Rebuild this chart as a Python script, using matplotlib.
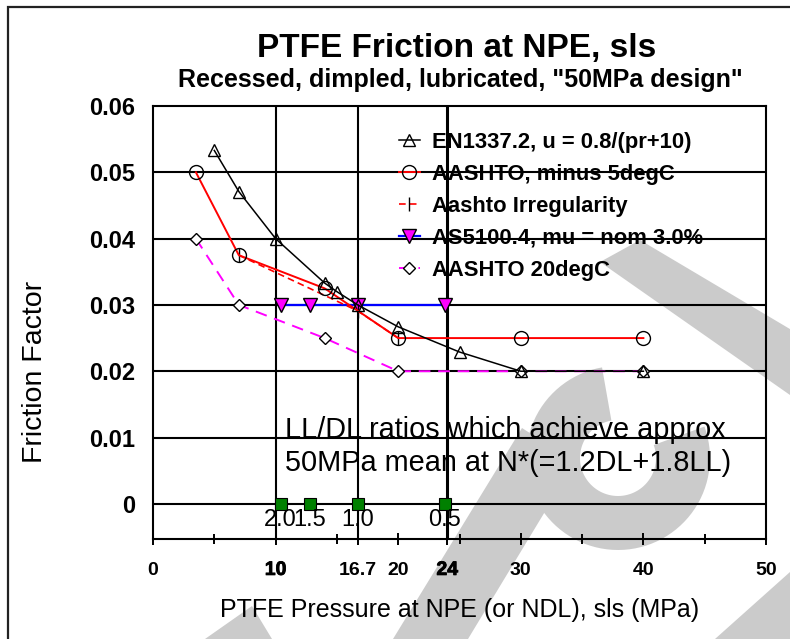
import numpy as np
import matplotlib
matplotlib.use("Agg")
import matplotlib.pyplot as plt
import matplotlib.patheffects as pe
from matplotlib.patches import Polygon, Rectangle

plt.rcParams['font.family'] = ['Liberation Sans', 'DejaVu Sans']

# ================== DATA ==================
en_x = [5, 7, 10, 14, 15, 16.7, 20, 25, 30, 40]
en_y = [0.0533, 0.0471, 0.040, 0.0333, 0.032, 0.030, 0.0267, 0.0229, 0.020, 0.020]

aash5_x = [3.5, 7, 14, 20, 30, 40]
aash5_y = [0.050, 0.0375, 0.0325, 0.025, 0.025, 0.025]

irreg_x = [7, 16.7, 20]
irreg_y = [0.0375, 0.0291, 0.025]

as5100_x = [10.4, 12.8, 16.7, 23.8]
as5100_y = [0.030, 0.030, 0.030, 0.030]

aash20_x = [3.5, 7, 14, 20, 30, 40]
aash20_y = [0.040, 0.030, 0.025, 0.020, 0.020, 0.020]

ratio_x = [10.4, 12.8, 16.7, 23.8]
ratio_y = [0, 0, 0, 0]
ratio_labels = ["2.0", "1.5", "1.0", "0.5"]

xtick_pos = [0, 10, 16.7, 20, 24, 30, 40, 50]
xtick_lab = ["0", "10", "16.7", "20", "24", "30", "40", "50"]
vgrid = [10, 16.7, 24]

W, H = 790, 639
fig = plt.figure(figsize=(W / 100, H / 100), dpi=100)


def px(x, y):
    return (x / W, 1 - y / H)


# ---- grey watermark behind the chart (rough) ----
wm = "#cbcbcb"
shapes = [
    [(393, 639), (468, 639), (575, 462), (522, 428)],
    [(600, 262), (640, 240), (800, 335), (800, 402)],
    [(715, 639), (790, 572), (790, 639)],
    [(205, 639), (252, 606), (272, 639)],
]
for s in shapes:
    fig.add_artist(Polygon([px(*p) for p in s], closed=True, fc=wm, ec="none", zorder=-2))
ang = np.radians(np.linspace(100, 380, 80))
cx, cy, r_in, r_out = 618, 458, 38, 92
ring = [(cx + r_out * np.cos(a), cy - r_out * np.sin(a)) for a in ang]
ring += [(cx + r_in * np.cos(a), cy - r_in * np.sin(a)) for a in ang[::-1]]
fig.add_artist(Polygon([px(*p) for p in ring], closed=True, fc=wm, ec="none", zorder=-2))

# outer frame (chart area border)
fig.add_artist(Rectangle(px(8, 700), 1.2, (700 - 7) / H, transform=fig.transFigure,
                         fill=False, ec="#222222", lw=1.6, zorder=-1))

ax = fig.add_axes([153 / W, 1 - 539 / H, (766 - 153) / W, (539 - 106) / H])
ax.patch.set_alpha(0)

# grid
for v in [0, 0.01, 0.02, 0.03, 0.04, 0.05]:
    ax.axhline(v, color="black", lw=1.5, zorder=1)
for v in vgrid:
    ax.axvline(v, color="black", lw=2.2 if v == 24 else 1.5, zorder=1)

ax.plot(aash20_x, aash20_y, color="magenta", ls=(0, (6, 4)), lw=1.4, marker="D",
        ms=6, mfc="white", mec="black", mew=1, label="AASHTO 20degC", zorder=3)
ax.plot(as5100_x, as5100_y, color="blue", lw=1.6, marker="v", ms=10,
        mfc="magenta", mec="black", mew=1, label="AS5100.4, mu = nom 3.0%", zorder=3)
ax.plot(irreg_x, irreg_y, color="red", ls=(0, (4, 2.5)), lw=1.2, marker="|",
        ms=10, mec="black", mew=1, label="Aashto Irregularity", zorder=4)
ax.plot(aash5_x, aash5_y, color="red", lw=1.4, marker="o", ms=10,
        mfc="none", mec="black", mew=1, label="AASHTO, minus 5degC", zorder=4)
ax.plot(en_x, en_y, color="black", lw=1.1, marker="^", ms=9,
        mfc="none", mec="black", mew=1, label="EN1337.2, u = 0.8/(pr+10)", zorder=5)

ax.plot(ratio_x, ratio_y, ls="none", marker="s", ms=8.5, mfc="#008000",
        mec="black", mew=0.8, zorder=6, clip_on=False)
for x, lab in zip(ratio_x, ratio_labels):
    ax.text(x, -0.0024, lab, ha="center", va="center", fontsize=17, zorder=6)

ax.text(10.8, 0.0112, "LL/DL ratios which achieve approx", fontsize=20.8,
        ha="left", va="center", zorder=6)
ax.text(10.8, 0.0062, "50MPa mean at N*(=1.2DL+1.8LL)", fontsize=20.8,
        ha="left", va="center", zorder=6)

ax.set_xlim(0, 50)
ax.set_ylim(-0.0053, 0.06)
ax.set_xticks(xtick_pos)
ax.set_xticklabels(xtick_lab, fontsize=14, fontweight="bold")
for t in ax.get_xticklabels():
    if t.get_text() in ("10", "24"):
        t.set_path_effects([pe.withStroke(linewidth=0.6, foreground="black")])
ax.set_xticks([5, 15, 25, 35, 45], minor=True)
ax.tick_params(axis="x", which="major", direction="inout", length=9, width=1.4, pad=12)
ax.tick_params(axis="x", which="minor", direction="inout", length=7, width=1.4)
ax.set_yticks([0, 0.01, 0.02, 0.03, 0.04, 0.05, 0.06])
ax.set_yticklabels(["0", "0.01", "0.02", "0.03", "0.04", "0.05", "0.06"],
                   fontsize=17, fontweight="bold")
ax.tick_params(axis="y", length=0, pad=13)
for sp in ax.spines.values():
    sp.set_linewidth(1.5)

ax.set_xlabel("PTFE Pressure at NPE (or NDL), sls (MPa)", fontsize=18, labelpad=14)
ax.set_ylabel("Friction Factor", fontsize=20.5)
ax.yaxis.set_label_coords(-0.171, 0.386)

handles, labels = ax.get_legend_handles_labels()
order = [4, 3, 2, 1, 0]
leg = ax.legend([handles[i] for i in order], [labels[i] for i in order],
                loc="upper left", bbox_to_anchor=px(399, 132), bbox_transform=fig.transFigure,
                frameon=False, borderpad=0, borderaxespad=0, handlelength=0.95,
                handletextpad=0.55, labelspacing=0.5, prop={"weight": "bold", "size": 15.8})
leg.set_zorder(7)

fig.text(*px(457, 48), "PTFE Friction at NPE, sls", fontsize=24, fontweight="bold",
         ha="center", va="center")
fig.text(*px(460, 80), "Recessed, dimpled, lubricated, \"50MPa design\"", fontsize=18,
         fontweight="bold", ha="center", va="center")

fig.savefig("out.png", dpi=100)
